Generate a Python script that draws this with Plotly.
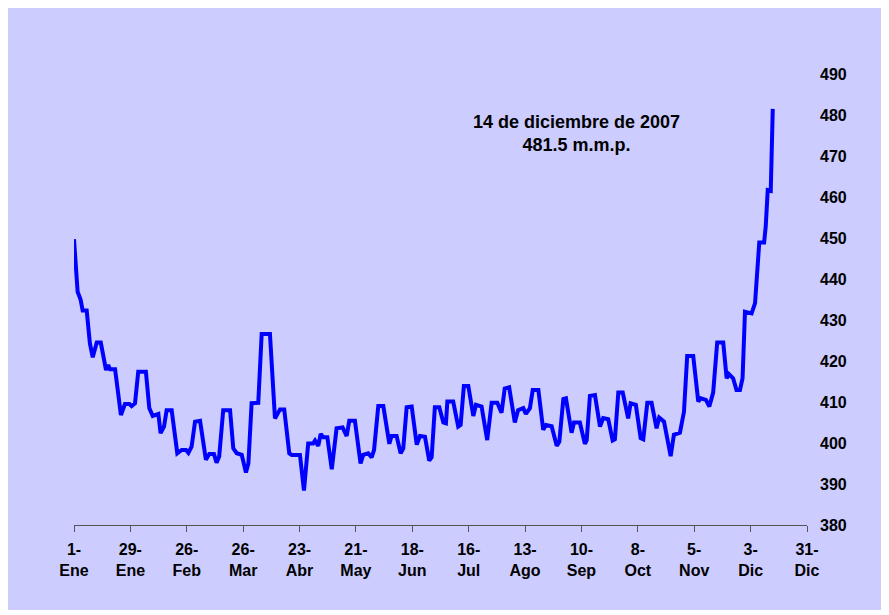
import plotly.graph_objects as go

# Day offset from 1 Jan 2007 and value (m.m.p.)
days = [0, 1.8, 3.3, 4.3, 6.3, 7.9, 9.3, 11.3, 13.3, 15.9, 17, 17.9, 20.4, 23.3, 25.3, 27.5,
        28.6, 30.3, 31.9, 35.7, 37.4, 39.1, 41.9, 43, 44.7, 46, 48.5, 51.3, 53.5, 55.6, 56.8,
        58.4, 60.1, 62.6, 65.5, 67.2, 69.5, 70.8, 72.1, 74.1, 77.5, 79.1, 80.8, 83.3, 85.4,
        86.6, 88.2, 91.5, 93.2, 97.3, 99.8, 102.3, 104.4, 106.9, 108.1, 112.2, 114.2, 116.3,
        118.8, 119.7, 121.3, 122.5, 123.8, 125.8, 128, 130.4, 133.4, 135.4, 136.7, 139.5,
        142.3, 143.6, 146.1, 147.8, 149, 151.1, 153.6, 156.6, 157.7, 160.2, 162.2, 163.5,
        165.2, 167.7, 170.2, 171.8, 174.3, 176.4, 177.6, 179.2, 181.4, 183.4, 184.7, 185.4,
        188.3, 190.8, 192, 193.6, 195.8, 198.3, 199.6, 202.4, 205.2, 207.4, 210.2, 212.3,
        213.9, 216.1, 218.9, 220.5, 223.1, 224.4, 226.4, 227.8, 230.6, 233, 234.4, 237.2,
        239.7, 241, 243, 244.3, 247.1, 248.3, 251.2, 253.7, 254.6, 256.2, 258.7, 261.2,
        262.8, 265.3, 267.5, 268.6, 270.3, 272.5, 275.2, 276.4, 279, 281.4, 282.7, 284.7,
        286.8, 289.3, 290.6, 293, 296.3, 297.9, 300.9, 302.9, 304.5, 307.5, 310, 311.3,
        313.8, 315.5, 317.4, 319.4, 322.4, 324.1, 325.2, 327.3, 329, 330.7, 332, 333.2,
        336.5, 338.2, 340.3, 342.7, 343.5, 344.5, 346, 347]
values = [449.7, 436.9, 434.9, 432.3, 432.3, 424.3, 420.9, 424.5, 424.5, 417.8, 419.0, 418.0,
          418.0, 406.8, 409.5, 409.5, 409.0, 409.7, 417.4, 417.4, 408.5, 406.6, 407.1, 402.4,
          404.0, 408.0, 408.0, 397.5, 398.3, 398.3, 397.6, 399.1, 405.2, 405.4, 395.9, 397.3,
          397.3, 395.2, 396.7, 408.0, 408.0, 398.7, 397.5, 397.1, 392.8, 395.0, 409.7, 409.8,
          426.6, 426.6, 406.0, 408.2, 408.2, 397.5, 397.1, 397.1, 388.4, 399.9, 399.9, 400.6,
          399.3, 402.2, 401.4, 401.4, 393.6, 403.6, 403.8, 401.7, 405.4, 405.4, 395.0, 397.1,
          397.5, 396.5, 398.3, 409.0, 409.0, 399.8, 401.7, 401.7, 397.5, 398.7, 408.7, 408.9,
          399.6, 401.7, 401.5, 395.7, 396.5, 408.7, 408.7, 405.0, 404.8, 410.1, 410.1, 404.0,
          404.4, 413.9, 413.9, 406.6, 409.3, 408.9, 400.7, 409.8, 409.8, 407.4, 413.3, 413.6,
          405.0, 408.0, 408.5, 407.1, 408.5, 412.9, 412.9, 403.2, 404.4, 404.1, 399.3, 400.3,
          410.7, 410.9, 402.5, 405.0, 405.0, 399.8, 400.7, 411.5, 411.7, 404.0, 406.1, 405.8,
          400.6, 400.9, 412.3, 412.3, 406.0, 409.7, 409.3, 401.2, 400.9, 409.8, 409.8, 403.6,
          406.2, 405.2, 396.8, 402.0, 402.5, 407.6, 421.2, 421.2, 410.1, 410.9, 410.5, 408.9,
          412.3, 424.5, 424.5, 415.8, 416.8, 415.8, 412.9, 412.9, 415.8, 432.0, 431.6, 434.1,
          448.9, 448.9, 452.8, 461.7, 461.5, 481.5]

tick_days = [0, 28, 56, 84, 112, 140, 168, 196, 224, 252, 280, 308, 336, 364]
tick_labels = ["1-<br>Ene", "29-<br>Ene", "26-<br>Feb", "26-<br>Mar", "23-<br>Abr",
               "21-<br>May", "18-<br>Jun", "16-<br>Jul", "13-<br>Ago", "10-<br>Sep",
               "8-<br>Oct", "5-<br>Nov", "3-<br>Dic", "31-<br>Dic"]
y_ticks = [380, 390, 400, 410, 420, 430, 440, 450, 460, 470, 480, 490]

note_text = "14 de diciembre de 2007<br>481.5 m.m.p."

BG = "#CCCCFF"
FONT = "Arial, Liberation Sans, sans-serif"

fig = go.Figure()
fig.add_trace(go.Scatter(x=days, y=values, mode="lines",
                         line=dict(color="#0000FF", width=4), hoverinfo="skip"))

fig.add_annotation(x=249.3, y=475.6, xref="x", yref="y", text=note_text,
                   showarrow=False, align="center",
                   font=dict(family=FONT, size=18, color="black", weight="bold"))

fig.update_layout(
    width=881, height=602,
    margin=dict(l=66, r=82, t=66, b=85),
    paper_bgcolor=BG, plot_bgcolor=BG,
    showlegend=False,
    font=dict(family=FONT, size=16, color="black", weight="bold"),
    xaxis=dict(range=[0, 364], tickmode="array", tickvals=tick_days, ticktext=tick_labels,
               showgrid=False, zeroline=False, showline=True, linecolor="#555555",
               linewidth=1, ticks="outside", ticklen=6, tickcolor="#555555",
               ticklabelstandoff=4,
               tickfont=dict(family=FONT, size=16, color="black", weight="bold")),
    yaxis=dict(range=[380, 490], side="right", tickmode="array", tickvals=y_ticks,
               showgrid=False, zeroline=False, showline=False, ticks="",
               ticklabelstandoff=12,
               tickfont=dict(family=FONT, size=16, color="black", weight="bold")),
)

fig.write_html("out.html")
